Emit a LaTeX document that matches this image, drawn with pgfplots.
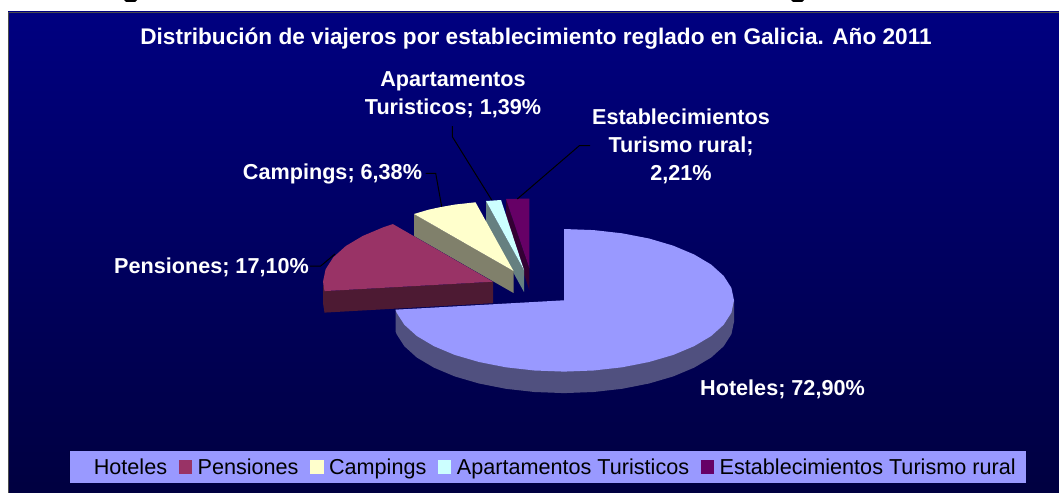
\documentclass[border=0pt]{standalone}
\usepackage{fontspec}
\setmainfont{Liberation Sans}
\usepackage{pgfplots}
\pgfplotsset{compat=1.18}
\definecolor{hot}{HTML}{9999FF}
\definecolor{hotS}{HTML}{50507F}
\definecolor{pen}{HTML}{993366}
\definecolor{penS}{HTML}{4D1A33}
\definecolor{cam}{HTML}{FFFFCC}
\definecolor{camS}{HTML}{80806B}
\definecolor{apa}{HTML}{CCFFFF}
\definecolor{apaS}{HTML}{668080}
\definecolor{est}{HTML}{660066}
\definecolor{estS}{HTML}{330033}
\definecolor{bgT}{HTML}{000080}
\definecolor{bgB}{HTML}{000040}
\begin{document}
\begin{tikzpicture}
\begin{axis}[
  scale only axis, width=1059bp, height=493bp,
  xmin=0, xmax=1059, ymin=0, ymax=493, y dir=reverse,
  hide axis,
  legend image code/.code={\path[#1] (0bp,0bp) rectangle (13.5bp,14bp);},
  legend columns=-1,
  legend style={
    at={(axis cs:69,449.5)}, anchor=north west,
    fill=hot, draw=bgB, line width=0.6bp,
    inner xsep=5.5bp, inner ysep=4bp,
    font=\fontsize{21.7}{26}\selectfont, text=black,
    nodes={inner sep=0pt, anchor=base west, text height=20.5bp, text depth=4.7bp},
    /tikz/every even column/.append style={column sep=11.5bp},
    /tikz/every odd column/.append style={column sep=5.5bp},
  },
]
% background
\fill[white] (axis cs:0,0) rectangle (axis cs:1059,493);
\shade[top color=bgT, bottom color=bgB] (axis cs:8,12) rectangle (axis cs:1059,493);
\draw[black!70, line width=0.8bp] (axis cs:1059,12) -- (axis cs:8,12) -- (axis cs:8,493);
% fragments of the cut text line above the frame
\fill[black] (axis cs:124,0) -- (axis cs:137,0) -- (axis cs:135,2) -- (axis cs:126,2) -- cycle;
\fill[black] (axis cs:791,0) -- (axis cs:804,0) -- (axis cs:802,2) -- (axis cs:793,2) -- cycle;
% sides, back to front
\addplot[forget plot, fill=estS, draw=none] coordinates {(506,199)(529.3,268)(529.3,290)(506,221)};
\addplot[forget plot, fill=apaS, draw=none] coordinates {(486,201)(524,270)(524,292)(486,223)};
\addplot[forget plot, fill=camS, draw=none] coordinates {(414,214)(513.5,271)(513.5,293)(414,236)};
\addplot[forget plot, fill=penS, draw=none] coordinates {(323,281.7)(324.5,291.1)(493,281.7)(493,303.2)(324.5,312.6)(323,303.2)};
\addplot[forget plot, fill=hotS, draw=none] coordinates {
 (395.5,309.7)(395.5,331.2)(396.6,334.2)(404.3,346.2)(416.8,357.5)(433.8,367.6)(454.7,376.4)(479,383.5)
 (505.9,388.8)(534.5,392)(564,393.1)(593.5,392)(622.1,388.8)(649,383.5)(673.3,376.4)(694.2,367.6)
 (711.2,357.5)(723.7,346.2)(731.4,334.2)(734,321.8)(734,300.3)};
% top faces
\addplot[fill=hot, draw=none] coordinates {
 (564,300.3)(564,229)(593.5,230.1)(622.1,233.3)(649,238.5)(673.3,245.7)(694.2,254.5)(711.2,264.6)
 (723.7,275.9)(731.4,287.9)(734,300.3)(731.4,312.7)(723.7,324.7)(711.2,336)(694.2,346.1)(673.3,354.9)
 (649,362)(622.1,367.3)(593.5,370.5)(564,371.6)(534.5,370.5)(505.9,367.3)(479,362)(454.7,354.9)
 (433.8,346.1)(416.8,336)(404.3,324.7)(396.6,312.7)(395.5,309.7)};
\addlegendentry{Hoteles}
\addplot[fill=pen, draw=none] coordinates {
 (493,281.7)(324.5,291.1)(323,281.7)(325.6,269.3)(333.3,257.3)(345.8,246)(362.8,235.9)(383.7,227.1)(392.9,224.1)};
\addlegendentry{Pensiones}
\addplot[fill=cam, draw=none] coordinates {(513.5,271)(414,214)(428.5,209.7)(441,207)(455.4,204.5)(475.5,202.3)};
\addlegendentry{Campings}
\addplot[fill=apa, draw=none] coordinates {(524,270)(486,201)(501,200)};
\addlegendentry{Apartamentos Turisticos}
\addplot[fill=est, draw=none] coordinates {(529.3,268)(506,199)(529.3,198.5)};
\addlegendentry{Establecimientos Turismo rural\hspace*{5bp}}
% leader lines
\addplot[forget plot, black, line width=1bp] coordinates {(310,266)(320.7,266)(335,254)};
\addplot[forget plot, black, line width=1bp] coordinates {(425.7,173.3)(435.7,173.3)(441.7,206.7)};
\addplot[forget plot, black, line width=1bp] coordinates {(452.3,126)(452.3,136.7)(491.7,200)};
\addplot[forget plot, black, line width=1bp] coordinates {(590,145.7)(579.3,145.7)(517.3,199)};
% text
\tikzset{lab/.style={text=white, font=\fontsize{21.7}{28}\bfseries\selectfont, align=center, inner sep=0pt}}
\node[lab, font=\fontsize{22.7}{28}\bfseries\selectfont] at (axis cs:536,38.5) {Distribución de viajeros por establecimiento reglado en Galicia. Año 2011};
\node[lab] at (axis cs:453,95) {Apartamentos\\Turisticos; 1,39\%};
\node[lab] at (axis cs:681,146) {Establecimientos\\Turismo rural;\\2,21\%};
\node[lab] at (axis cs:332.5,174) {Campings; 6,38\%};
\node[lab] at (axis cs:211.5,267) {Pensiones; 17,10\%};
\node[lab] at (axis cs:782.5,389) {Hoteles; 72,90\%};
\end{axis}
\end{tikzpicture}
\end{document}
